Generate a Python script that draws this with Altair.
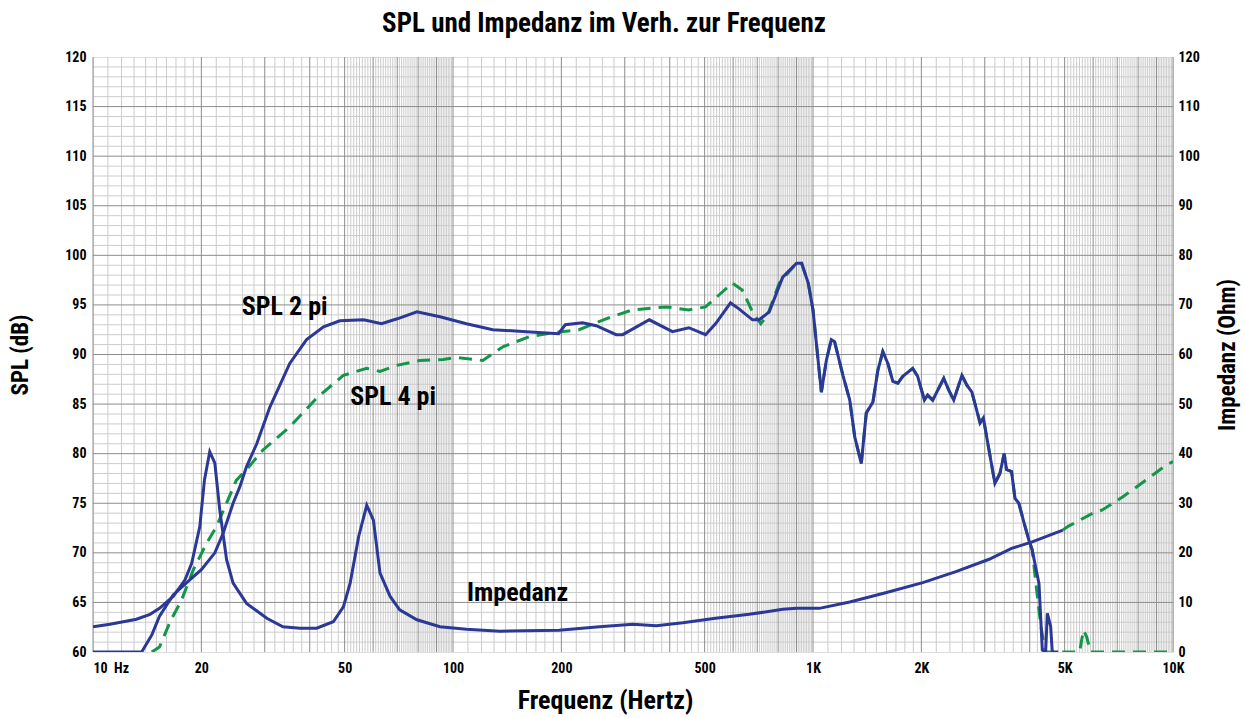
import altair as alt
import pandas as pd

FONT = "Liberation Sans Narrow, Roboto Condensed, DejaVu Sans Condensed, Arial Narrow, sans-serif"
BLUE = "#2B3896"
GREEN = "#13964A"

# SPL 2 pi (half space), frequency in Hz, level in dB
spl2_freq = [10, 13.65, 14.56, 15.3, 16.7, 18.6, 20.0, 21.8, 23.0, 24.5, 25.6, 26.7, 28.5, 31.0,
             35.2, 39.2, 43.7, 48.5, 56.5, 63.3, 70, 79.4, 92, 109, 129, 160, 196.5, 205, 229,
             250, 284, 296, 351, 407, 452, 503, 536, 590, 623, 679, 709, 756, 824, 900, 930,
             970, 1000, 1022, 1055, 1089, 1124, 1148, 1211, 1265, 1306, 1362, 1406, 1467,
             1514, 1563, 1614, 1666, 1720, 1776, 1892, 1953, 2039, 2082, 2150, 2308, 2383,
             2460, 2592, 2676, 2763, 2911, 2973, 3201, 3305, 3397, 3448, 3561, 3639, 3730,
             3852, 3977, 4063, 4244, 4335, 4428, 4476, 4572, 4620, 4800]
spl2_db = [60, 60, 61.7, 63.6, 65.75, 67.3, 68.3, 70.0, 72.0, 75.0, 76.7, 78.7, 81.0, 84.7,
           89.1, 91.5, 92.8, 93.4, 93.5, 93.1, 93.6, 94.3, 93.8, 93.1, 92.5, 92.3, 92.1, 93.0, 93.2,
           92.9, 92.0, 92.0, 93.5, 92.3, 92.7, 92.0, 93.1, 95.2, 94.6, 93.5, 93.5, 94.3, 97.8, 99.2, 99.2,
           97.2, 94.5, 91.1, 86.2, 89.4, 91.5, 91.3, 87.9, 85.4, 81.7, 79.0, 84.1, 85.2,
           88.4, 90.3, 89.1, 87.3, 87.1, 87.8, 88.6, 87.8, 85.4, 85.9, 85.4, 87.6, 86.4,
           85.4, 87.9, 86.9, 86.2, 83.1, 83.6, 77.0, 78.0, 80.0, 78.4, 78.2, 75.5, 75.0,
           73.1, 71.3, 70.3, 66.9, 60.2, 60, 63.9, 62.6, 60, 60]

# SPL 4 pi (full space)
spl4_freq = [14.56, 15.3, 16.4, 17.6, 19.0, 20.7, 22.0, 25.0, 26.7, 29.7, 35.2, 41.8,
             49.6, 57.6, 62.7, 69.7, 81, 93.8, 102, 121, 138, 163, 190, 224, 266, 315, 391,
             452, 503, 548, 597, 636, 679, 716, 748, 806, 900, 930, 970, 1000, 1022, 1055,
             1089, 1124, 1148, 1211, 1265, 1306, 1362, 1406, 1467, 1514, 1563, 1614, 1666,
             1720, 1776, 1892, 1953, 2039, 2082, 2150, 2308, 2383, 2460, 2592, 2676, 2763,
             2911, 2973, 3201, 3305, 3397, 3448, 3561, 3639, 3730, 3852, 3977, 4063, 4185,
             4300, 4420, 5500, 5640, 5760, 5900, 10000]
spl4_db = [60, 60.5, 63.1, 65.2, 68.3, 71.0, 72.6, 77.3, 78.4, 80.4, 82.7, 85.6,
           87.9, 88.6, 88.3, 88.9, 89.4, 89.5, 89.7, 89.4, 90.8, 91.8, 92.2, 92.5, 93.6, 94.5, 94.8,
           94.5, 94.8, 96.0, 97.2, 96.5, 94.3, 93.1, 94.0, 97.2, 99.2, 99.2, 97.2, 94.5, 91.1, 86.2,
           89.4, 91.5, 91.3, 87.9, 85.4, 81.7, 79.0, 84.1, 85.2, 88.4, 90.3, 89.1, 87.3,
           87.1, 87.8, 88.6, 87.8, 85.4, 85.9, 85.4, 87.6, 86.4, 85.4, 87.9, 86.9, 86.2,
           83.1, 83.6, 77.0, 78.0, 80.0, 78.4, 78.2, 75.5, 75.0, 73.1, 71.3, 70.3, 66.1,
           62.5, 60, 60, 62.2, 61.5, 60, 60]

# Impedance in Ohm
imp_freq = [10, 11.15, 13.2, 14.4, 15.3, 16.7, 18.0, 18.8, 19.8, 20.4, 21.1, 21.8, 22.5, 23.5,
            24.5, 26.7, 30.4, 33.7, 37.6, 41.8, 46.5, 49.6, 51.8, 54.7, 57.6, 60.1, 62.7, 66.9,
            71.1, 79.4, 92, 109, 135, 197, 255, 316, 367, 435, 536, 665, 824, 900, 1041, 1265,
            1563, 2018, 2494, 3085, 3561, 4063, 4945]
imp_ohm = [5.1, 5.6, 6.6, 7.6, 8.8, 11.2, 14.5, 17.9, 25.3, 34.7, 40.4, 38.1, 28.6, 18.6,
           13.9, 9.8, 6.8, 5.1, 4.8, 4.8, 6.1, 9.1, 13.9, 23.3, 29.6, 26.6, 15.9, 11.2,
           8.5, 6.5, 5.1, 4.6, 4.2, 4.4, 5.1, 5.6, 5.3, 5.9, 6.8, 7.6, 8.6, 8.8, 8.8, 10.1,
           11.8, 14.0, 16.2, 18.7, 20.9, 22.2, 24.6]
# Impedance above 5 kHz (dashed)
imp_ext_freq = [4945, 5101, 5986, 6346, 7256, 8425, 9580, 10000]
imp_ext_ohm = [24.6, 25.3, 28.0, 28.6, 31.3, 34.7, 37.7, 38.4]

x_ticks = [10, 20, 50, 100, 200, 500, 1000, 2000, 5000, 10000]
spl_ticks = list(range(60, 121, 5))
imp_ticks = list(range(0, 121, 10))

# curve captions
label_text = ["SPL 2 pi", "SPL 4 pi", "Impedanz"]
label_freq = [25.9, 51.8, 109.4]
label_db = [94.8, 85.7, 66.0]

# log-paper grid
major_x = sorted({m * 10 ** d for d in (1, 2, 3) for m in range(1, 10)} | {10000})
major_set = {round(v, 6) for v in major_x}
minor_x = []
for d in (1, 2, 3):
    dec = 10 ** d
    cand = [dec * (1 + 0.1 * i) for i in range(1, 10)]
    cand += [dec * (2 + 0.2 * i) for i in range(1, 15)]
    cand += [dec * (5 + 0.1 * i) for i in range(1, 50)]
    minor_x += [v for v in cand if round(v, 6) not in major_set]
major_y = [v for v in range(65, 120, 5)]
minor_y = [v for v in range(61, 120) if v % 5]

xscale = alt.Scale(type="log", domain=[10, 10000], nice=False)
xaxis = alt.Axis(
    values=x_ticks,
    labelExpr="datum.value == 10 ? '10\u00a0\u00a0Hz' : (datum.value >= 1000 ? (datum.value / 1000) + 'K' : datum.value)",
    labelAlign={"condition": {"test": "datum.value == 10", "value": "left"}, "value": "center"},
    title="Frequenz (Hertz)", grid=False, ticks=False, domain=False,
    labelFont=FONT, labelFontSize=14, labelFontWeight="bold", labelColor="black",
    labelPadding=9,
    titleFont=FONT, titleFontSize=26, titleFontWeight="bold", titleColor="black",
    titlePadding=12, titleX=512,
)
spl_scale = alt.Scale(domain=[60, 120], nice=False, zero=False)
spl_axis = alt.Axis(
    values=spl_ticks, orient="left", title="SPL (dB)", grid=False, ticks=False, domain=False,
    labelFont=FONT, labelFontSize=14, labelFontWeight="bold", labelColor="black", labelPadding=7,
    titleFont=FONT, titleFontSize=23, titleFontWeight="bold", titleColor="black", titlePadding=32,
)
imp_scale = alt.Scale(domain=[0, 120], nice=False)
imp_axis = alt.Axis(
    values=imp_ticks, orient="right", title="Impedanz (Ohm)", grid=False, ticks=False, domain=False,
    labelFont=FONT, labelFontSize=14, labelFontWeight="bold", labelColor="black", labelPadding=5,
    titleFont=FONT, titleFontSize=23, titleFontWeight="bold", titleColor="black", titlePadding=40,
    titleAngle=270,
)


def X(field):
    return alt.X(field, type="quantitative", scale=xscale, axis=xaxis)


def Y(field):
    return alt.Y(field, type="quantitative", scale=spl_scale, axis=spl_axis)


grid_minor_v = alt.Chart(pd.DataFrame({"f": minor_x})).mark_rule(
    color="#cccccc", strokeWidth=1).encode(x=X("f"))
grid_minor_h = alt.Chart(pd.DataFrame({"db": minor_y})).mark_rule(
    color="#cccccc", strokeWidth=1).encode(y=Y("db"))
grid_major_v = alt.Chart(pd.DataFrame({"f": major_x})).mark_rule(
    color="#8c8c8c", strokeWidth=1).encode(x=X("f"))
grid_major_h = alt.Chart(pd.DataFrame({"db": major_y})).mark_rule(
    color="#8c8c8c", strokeWidth=1).encode(y=Y("db"))

spl4 = alt.Chart(pd.DataFrame({"f": spl4_freq, "db": spl4_db})).mark_line(
    color=GREEN, strokeWidth=3, strokeDash=[13, 8], clip=True).encode(x=X("f"), y=Y("db"))
spl2 = alt.Chart(pd.DataFrame({"f": spl2_freq, "db": spl2_db})).mark_line(
    color=BLUE, strokeWidth=3, clip=True).encode(x=X("f"), y=Y("db"))
labels = alt.Chart(pd.DataFrame({"t": label_text, "f": label_freq, "db": label_db})).mark_text(
    align="left", baseline="middle", font=FONT, fontSize=26, fontWeight="bold", color="black"
).encode(x=X("f"), y=Y("db"), text="t:N")

spl_group = alt.layer(grid_minor_v, grid_minor_h, grid_major_v, grid_major_h, spl4, spl2, labels)

imp = alt.Chart(pd.DataFrame({"f": imp_freq, "z": imp_ohm})).mark_line(
    color=BLUE, strokeWidth=3, clip=True).encode(
    x=X("f"), y=alt.Y("z", type="quantitative", scale=imp_scale, axis=imp_axis))
imp_ext = alt.Chart(pd.DataFrame({"f": imp_ext_freq, "z": imp_ext_ohm})).mark_line(
    color=GREEN, strokeWidth=3, strokeDash=[13, 8], clip=True).encode(
    x=X("f"), y=alt.Y("z", type="quantitative", scale=imp_scale, axis=imp_axis))
imp_group = alt.layer(imp_ext, imp)

chart = alt.layer(spl_group, imp_group).resolve_scale(y="independent").properties(
    width=1080,
    height=595,
    autosize=alt.AutoSizeParams(type="none"),
    padding={"left": 93, "top": 57, "right": 72, "bottom": 66},
    title=alt.TitleParams(
        "SPL und Impedanz im Verh. zur Frequenz",
        font=FONT, fontSize=27, fontWeight="bold", color="black", anchor="middle",
        offset=12, dx=-29,
    ),
).configure_view(stroke="black", strokeWidth=3).configure(background="white")

chart.save("out.html", embed_options={"renderer": "svg", "actions": False})
